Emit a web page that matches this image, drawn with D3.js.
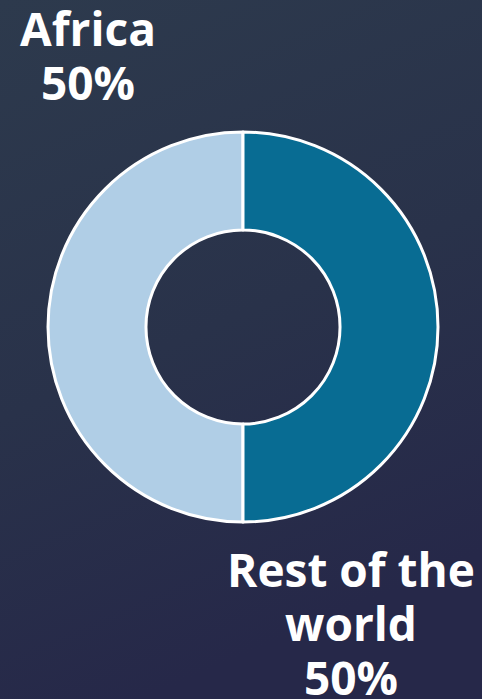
<!DOCTYPE html>
<html><head><meta charset="utf-8">
<script src="https://cdn.jsdelivr.net/npm/d3@7"></script>
<style>html,body{margin:0;padding:0;overflow:hidden;background:#2b3749;}</style>
</head><body>
<script>
const categories = ["Africa", "Rest of the world"];
const values = [50, 50];
const labelLines = [["Africa", "50%"], ["Rest of the", "world", "50%"]];
const colors = ["#b0cee6", "#086c93"];

const W = 482, H = 699;
const svg = d3.select("body").append("svg").attr("width", W).attr("height", H);
const defs = svg.append("defs");
const g1 = defs.append("linearGradient").attr("id", "bg").attr("x1", 0).attr("y1", 0).attr("x2", 0.3).attr("y2", 1);
g1.append("stop").attr("offset", "0%").attr("stop-color", "#2d3a4d");
g1.append("stop").attr("offset", "55%").attr("stop-color", "#29324a");
g1.append("stop").attr("offset", "100%").attr("stop-color", "#262849");
svg.append("rect").attr("width", W).attr("height", H).attr("fill", "url(#bg)");

const cx = 243, cy = 327, R = 195, r = 97;
const pie = d3.pie().sort(null).value(d => d).startAngle(Math.PI).endAngle(3 * Math.PI);
const arc = d3.arc().innerRadius(r).outerRadius(R);
const color = d3.scaleOrdinal().domain(categories).range(colors);
const g = svg.append("g").attr("transform", `translate(${cx},${cy})`);
g.selectAll("path").data(pie(values)).join("path")
  .attr("d", arc)
  .attr("fill", (d, i) => color(categories[i]))
  .attr("stroke", "#ffffff").attr("stroke-width", 3).attr("stroke-linejoin", "round");

const labelPos = [[88, 46], [351, 587]];
const lh = 54;
labelLines.forEach((lines, i) => {
  const t = svg.append("text").attr("x", labelPos[i][0]).attr("y", labelPos[i][1])
    .attr("text-anchor", "middle").attr("fill", "#ffffff")
    .style("font-family", "'Open Sans', sans-serif").style("font-weight", 700).style("font-size", "46px");
  lines.forEach((l, j) => {
    const txt = j === lines.length - 1 ? values[i] + "%" : l;
    t.append("tspan").attr("x", labelPos[i][0]).attr("y", labelPos[i][1] + j * lh).text(txt);
  });
});
</script>
</body></html>
